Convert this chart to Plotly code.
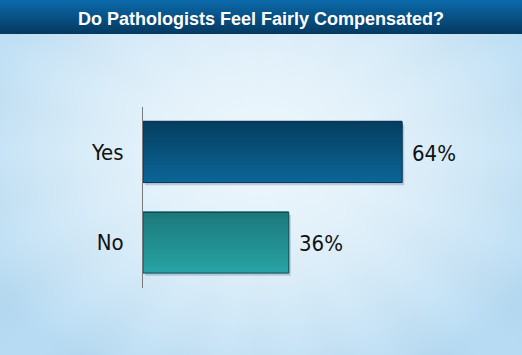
import base64, struct, zlib
import numpy as np
import plotly.graph_objects as go

categories = ["Yes", "No"]
values = [64, 36]
value_labels = ["64%", "36%"]
title_text = "Do Pathologists Feel Fairly Compensated?"

W, H = 522, 355
L, R, T, B = 143, 55, 107, 67
PW, PH = W - L - R, H - T - B

# ---------- background image (style only) ----------
def make_png(arr):
    h, w, _ = arr.shape
    raw = b"".join(b"\x00" + arr[i].tobytes() for i in range(h))
    def chunk(tag, data):
        c = struct.pack(">I", len(data)) + tag + data
        return c + struct.pack(">I", zlib.crc32(tag + data) & 0xFFFFFFFF)
    return (b"\x89PNG\r\n\x1a\n" + chunk(b"IHDR", struct.pack(">IIBBBBB", w, h, 8, 2, 0, 0, 0))
            + chunk(b"IDAT", zlib.compress(raw, 9)) + chunk(b"IEND", b""))

yy, xx = np.mgrid[0:H, 0:W].astype(float)
cx, cy = 260.0, 150.0
d = np.sqrt(((xx - cx) / 320.0) ** 2 + ((yy - cy) / 250.0) ** 2)
d = np.clip(d, 0, 1)
c_in = np.array([236, 246, 252], float)
c_out = np.array([180, 216, 240], float)
t = d ** 1.7
img = c_in[None, None, :] * (1 - t[..., None]) + c_out[None, None, :] * t[..., None]
ang = np.arctan2(yy - cy, xx - cx)
rays = 0.5 + 0.5 * np.cos(ang * 18)
img += (rays[..., None] * 4.0 * t[..., None])
bar_h = 34
top = np.array([12, 106, 171], float)
bot = np.array([5, 58, 96], float)
for r in range(bar_h):
    f = r / (bar_h - 1)
    img[r, :, :] = top * (1 - f) + bot * f
img = np.clip(img, 0, 255).astype(np.uint8)
src = "data:image/png;base64," + base64.b64encode(make_png(img)).decode()

# ---------- bars ----------
bar_w = 0.67
N = 20
yes_top, yes_bot = np.array([5, 62, 96]), np.array([11, 102, 152])
no_top, no_bot = np.array([28, 120, 122]), np.array([40, 164, 166])

def rgb(c):
    return "rgb(%d,%d,%d)" % tuple(int(round(v)) for v in c)

LABEL_FONT = "DejaVu Sans Condensed, Liberation Sans Narrow, Arial Narrow, sans-serif"

fig = go.Figure()
# drop shadow (bottom-right)
fig.add_trace(go.Bar(
    y=categories, x=values, orientation="h", width=bar_w, offset=-bar_w / 2 - 0.03,
    base=[0.5, 0.5], marker=dict(color="rgba(40,70,100,0.22)", line=dict(width=0)),
    hoverinfo="skip", showlegend=False))
step = bar_w / N
for i in range(N):
    f = (i + 0.5) / N  # 0 = lowest slice (bottom of bar)
    cy_ = yes_bot * (1 - f) + yes_top * f
    cn_ = no_bot * (1 - f) + no_top * f
    fig.add_trace(go.Bar(
        y=categories, x=values, orientation="h",
        width=step * 1.4, offset=-bar_w / 2 + i * step,
        marker=dict(color=[rgb(cy_), rgb(cn_)], line=dict(width=0)),
        hoverinfo="skip", showlegend=False))
fig.add_trace(go.Bar(
    y=categories, x=values, orientation="h", width=bar_w,
    marker=dict(color="rgba(0,0,0,0)", line=dict(color=["#0a3552", "#0f4a50"], width=1)),
    hoverinfo="skip", showlegend=False))

for c, v, lab in zip(categories, values, value_labels):
    fig.add_annotation(x=v, y=c, text=lab, showarrow=False, xanchor="left", yanchor="middle",
                       xshift=8, yshift=-1,
                       font=dict(family=LABEL_FONT, size=22, color="#111111"))

fig.update_layout(
    width=W, height=H, margin=dict(l=L, r=R, t=T, b=B, pad=0),
    paper_bgcolor="#dcedf8", plot_bgcolor="rgba(0,0,0,0)",
    barmode="overlay", showlegend=False, hovermode=False,
    title=dict(text="<b>%s</b>" % title_text, x=0.5, xanchor="center", y=1 - 18.5 / H, yanchor="middle",
               font=dict(family="Liberation Sans, Arial, sans-serif", size=18, color="white")),
    images=[dict(source=src, xref="paper", yref="paper", x=-L / PW, y=1 + T / PH,
                 sizex=W / PW, sizey=H / PH, sizing="stretch", xanchor="left", yanchor="top",
                 layer="below")],
    xaxis=dict(range=[0, 80], visible=False, fixedrange=True),
    yaxis=dict(categoryorder="array", categoryarray=["No", "Yes"], range=[-0.5, 1.5],
               showline=True, linecolor="#7a7a7a", linewidth=1, showgrid=False, zeroline=False,
               ticks="", ticklabelstandoff=14, fixedrange=True,
               tickfont=dict(family=LABEL_FONT, size=22, color="#111111")),
)
fig.write_html("out.html", config={"displayModeBar": False, "staticPlot": True},
               post_script="document.body.style.margin='0';")
